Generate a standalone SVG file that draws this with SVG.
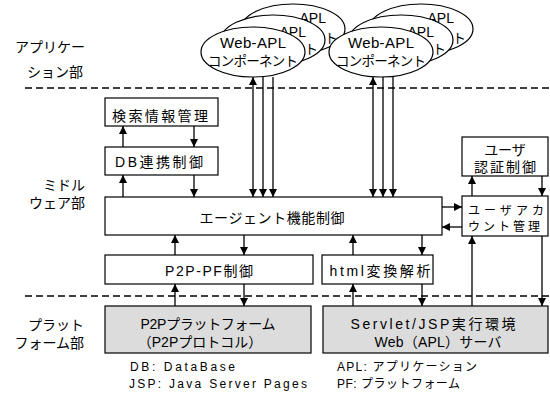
<svg xmlns="http://www.w3.org/2000/svg" width="550" height="396" viewBox="0 0 550 396">
<defs>
<marker id="ah" viewBox="0 0 10 10" refX="10" refY="5" markerWidth="8" markerHeight="8" markerUnits="userSpaceOnUse" orient="auto-start-reverse"><path d="M0,0 L10,5 L0,10 z" fill="#000"/></marker>
<style>
text{font-family:"Liberation Sans","Noto Sans CJK JP",sans-serif;fill:#000}
.t{font-size:14px;text-anchor:middle}
.l{font-size:14px;text-anchor:end}
.f{font-size:12px}
.box{fill:#fff;stroke:#000;stroke-width:1.2}
.gbox{fill:#dcdcdc;stroke:#000;stroke-width:1.2}
.el{fill:#fff;stroke:#000;stroke-width:1.2}
.dash{stroke:#000;stroke-width:1.3;stroke-dasharray:7 4;fill:none}
.c line{stroke:#000;stroke-width:1.3;marker-end:url(#ah)}
.c line.bi{marker-start:url(#ah)}
.et{font-size:15px;text-anchor:middle}
.ej{font-size:13.5px;text-anchor:middle}
.ee{font-size:14px;text-anchor:end}
.ek{font-size:13.5px;text-anchor:end}
</style>
</defs>
<rect width="550" height="396" fill="#fff"/>

<g id="layers">
<line class="dash" x1="25" y1="88" x2="550" y2="88"/>
<line class="dash" x1="25" y1="296" x2="550" y2="296"/>
<text class="l" x="85" y="52">アプリケー</text>
<text class="l" x="83" y="77">ション部</text>
<text class="l" x="85" y="190">ミドル</text>
<text class="l" x="85" y="208">ウェア部</text>
<text class="l" x="84" y="330">プラット</text>
<text class="l" x="84" y="348">フォーム部</text>
</g>

<g id="apl-left">
<ellipse class="el" cx="293" cy="29" rx="52" ry="25"/>
<text class="ee" x="326" y="23">APL</text><text class="ek" x="338" y="43">ト</text>
<ellipse class="el" cx="273" cy="40" rx="52" ry="25"/>
<text class="ee" x="306" y="37">APL</text><text class="ek" x="318" y="54">ト</text>
<ellipse class="el" cx="253" cy="52" rx="52" ry="25"/>
<text class="et" x="253" y="48" textLength="66">Web-APL</text><text class="ej" x="253" y="66" textLength="90">コンポーネント</text>
</g>

<g id="apl-right">
<ellipse class="el" cx="421" cy="29" rx="52" ry="25"/>
<text class="ee" x="454" y="23">APL</text><text class="ek" x="466" y="43">ト</text>
<ellipse class="el" cx="401" cy="40" rx="52" ry="25"/>
<text class="ee" x="434" y="37">APL</text><text class="ek" x="446" y="54">ト</text>
<ellipse class="el" cx="381" cy="52" rx="52" ry="25"/>
<text class="et" x="381" y="48" textLength="66">Web-APL</text><text class="ej" x="381" y="66" textLength="90">コンポーネント</text>
</g>

<g id="search">
<rect class="box" x="105" y="98" width="113" height="28"/>
<text class="t" x="160" y="121" textLength="96">検索情報管理</text>
</g>
<g id="db">
<rect class="box" x="105" y="147" width="113" height="28"/>
<text class="t" x="159" y="167" textLength="88">DB連携制御</text>
</g>
<g id="agent">
<rect class="box" x="105" y="197" width="337" height="38"/>
<text class="t" x="272" y="223" textLength="145">エージェント機能制御</text>
</g>
<g id="auth">
<rect class="box" x="462" y="137" width="86" height="39"/>
<text class="t" x="505" y="155">ユーザ</text>
<text class="t" x="505" y="172" textLength="62">認証制御</text>
</g>
<g id="account">
<rect class="box" x="462" y="196" width="86" height="40"/>
<text class="f" x="468" y="215" font-size="14" textLength="76">ユーザアカ</text>
<text class="f" x="468" y="231" font-size="14" textLength="72">ウント管理</text>
</g>
<g id="p2ppf">
<rect class="box" x="105" y="255" width="208" height="29"/>
<text class="t" x="209" y="276" textLength="88">P2P-PF制御</text>
</g>
<g id="html">
<rect class="box" x="322" y="255" width="111" height="29"/>
<text class="t" x="380" y="276" textLength="101">html変換解析</text>
</g>
<g id="p2p">
<rect class="gbox" x="105" y="306" width="206" height="47"/>
<text class="t" x="208" y="329" textLength="135">P2Pプラットフォーム</text>
<text class="t" x="200" y="347">（P2Pプロトコル）</text>
</g>
<g id="servlet">
<rect class="gbox" x="323" y="306" width="225" height="47"/>
<text class="t" x="433" y="329" textLength="165">Servlet/JSP実行環境</text>
<text class="t" x="438" y="347" textLength="127">Web（APL）サーバ</text>
</g>

<g id="notes">
<text class="f" x="130" y="371" textLength="105">DB: DataBase</text>
<text class="f" x="129" y="388" textLength="178">JSP: Java Server Pages</text>
<text class="f" x="337" y="371" textLength="140">APL: アプリケーション</text>
<text class="f" x="337" y="388" textLength="123">PF: プラットフォーム</text>
</g>

<g id="connectors" class="c">
<line class="bi" x1="253" y1="77" x2="253" y2="197"/>
<line x1="263" y1="77" x2="263" y2="197"/>
<line x1="273" y1="77" x2="273" y2="197"/>
<line class="bi" x1="373" y1="77" x2="373" y2="197"/>
<line x1="383" y1="77" x2="383" y2="197"/>
<line x1="393" y1="77" x2="393" y2="197"/>
<line x1="123" y1="147" x2="123" y2="126"/>
<line x1="194" y1="126" x2="194" y2="147"/>
<line x1="123" y1="197" x2="123" y2="175"/>
<line x1="194" y1="175" x2="194" y2="197"/>
<line x1="175" y1="255" x2="175" y2="235"/>
<line x1="244" y1="235" x2="244" y2="255"/>
<line x1="175" y1="306" x2="175" y2="284"/>
<line x1="244" y1="284" x2="244" y2="306"/>
<line x1="353" y1="255" x2="353" y2="235"/>
<line x1="422" y1="235" x2="422" y2="255"/>
<line x1="353" y1="306" x2="353" y2="284"/>
<line x1="422" y1="284" x2="422" y2="306"/>
<line x1="442" y1="207" x2="462" y2="207"/>
<line x1="462" y1="227" x2="442" y2="227"/>
<line x1="472" y1="196" x2="472" y2="176"/>
<line x1="542" y1="176" x2="542" y2="196"/>
<line x1="472" y1="306" x2="472" y2="236"/>
<line x1="542" y1="236" x2="542" y2="306"/>
</g>
</svg>
